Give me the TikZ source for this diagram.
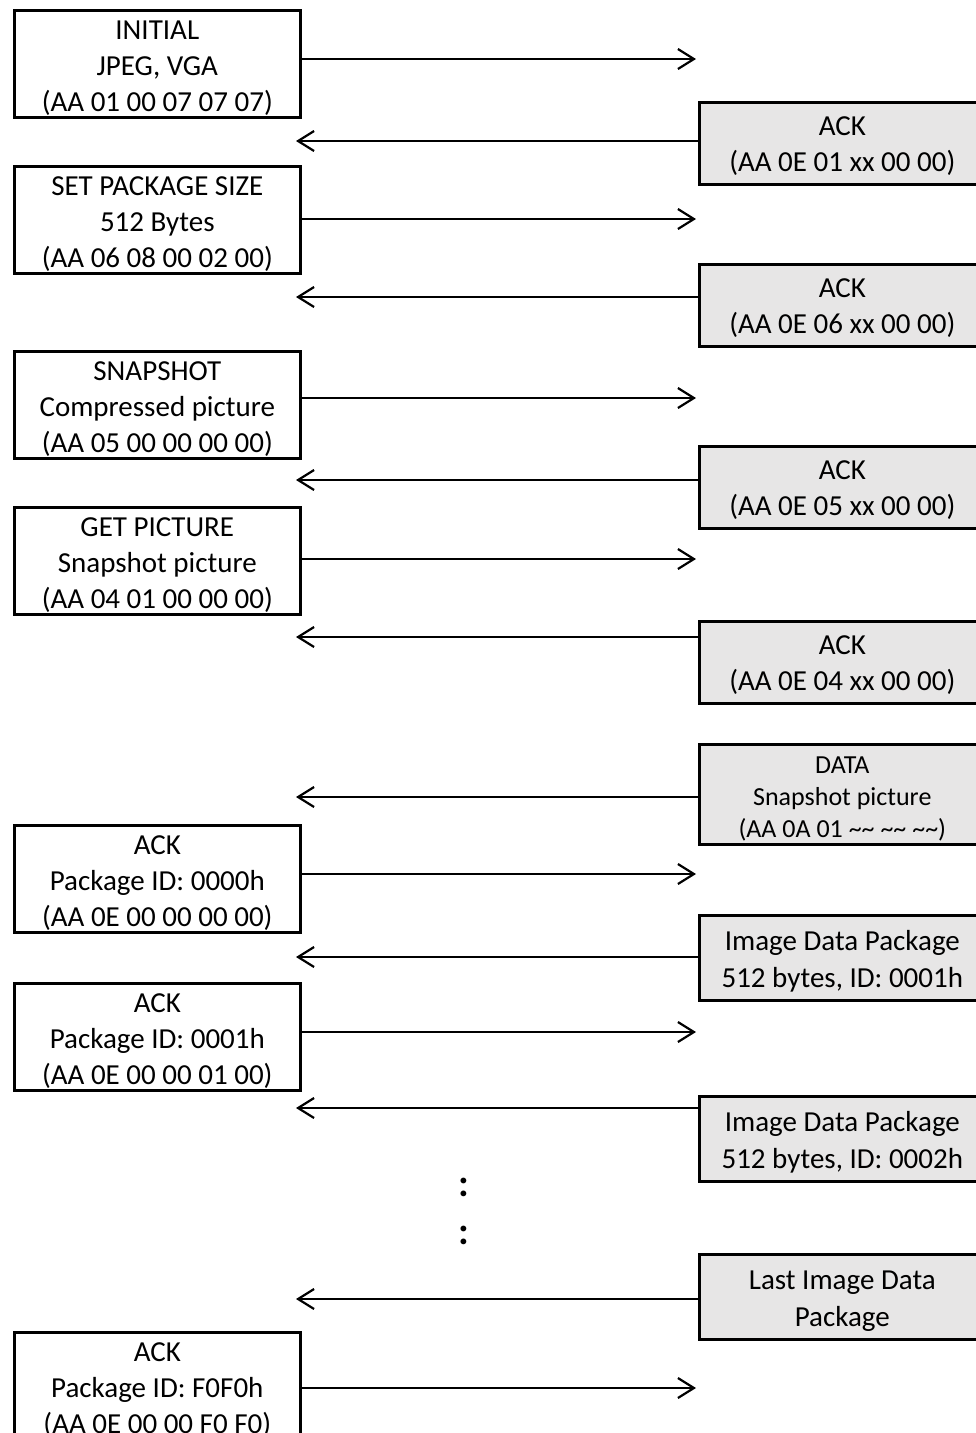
\documentclass[tikz,border=0pt]{standalone}
\usepackage{fontspec}
\setmainfont{Carlito}
\usetikzlibrary{arrows.meta}
\definecolor{boxgray}{RGB}{231,230,230}
% #1 width, #2 height, #3 first baseline offset, #4 baselineskip, #5 text
\newcommand\boxtext[5]{\vbox to #2{\hsize=#1\relax\parindent=0pt\centering\baselineskip=#4\relax\vskip\dimexpr#3-24pt\relax\leavevmode\rule{0pt}{24pt}#5\par\vss}}
\newcommand\ltext[1]{\boxtext{286pt}{107pt}{29.5pt}{36pt}{#1}}
\newcommand\atext[1]{\boxtext{286pt}{82pt}{33pt}{36pt}{#1}}
\newcommand\ptext[1]{\boxtext{286pt}{85pt}{35.5pt}{36.5pt}{#1}}
\newcommand\tl{\textasciitilde\textasciitilde}
\begin{document}
\begin{tikzpicture}[x=1pt,y=-1pt,
  font=\fontsize{29pt}{36pt}\selectfont,
  lbox/.style={draw, line width=2.6pt, fill=white, inner sep=0pt, anchor=north west},
  rbox/.style={lbox, fill=boxgray},
  arr/.style={line width=2.2pt, -{Straight Barb[length=16pt,width=20pt,line width=2.2pt]}},
  dots/.style={anchor=base, inner sep=0pt, font=\fontsize{39pt}{46pt}\selectfont\bfseries}]
\useasboundingbox (0,0) rectangle (976,1433);
\coordinate (tipR) at (696,0);
\coordinate (tipL) at (296,0);
% left boxes
\node[lbox] (b1) at (13,9) {\ltext{INITIAL\\JPEG, VGA\\(AA 01 00 07 07 07)}};
\node[lbox] (b2) at (13,165) {\ltext{SET PACKAGE SIZE\\512 Bytes\\(AA 06 08 00 02 00)}};
\node[lbox] (b3) at (13,350) {\ltext{SNAPSHOT\\Compressed picture\\(AA 05 00 00 00 00)}};
\node[lbox] (b4) at (13,506) {\ltext{GET PICTURE\\Snapshot picture\\(AA 04 01 00 00 00)}};
\node[lbox] (b5) at (13,824) {\ltext{ACK\\Package ID: 0000h\\(AA 0E 00 00 00 00)}};
\node[lbox] (b6) at (13,982) {\ltext{ACK\\Package ID: 0001h\\(AA 0E 00 00 01 00)}};
\node[lbox] (b7) at (13,1331) {\ltext{ACK\\Package ID: F0F0h\\(AA 0E 00 00 F0 F0)}};
% right boxes
\node[rbox] (r1) at (698,101) {\atext{ACK\\(AA 0E 01 xx 00 00)}};
\node[rbox] (r2) at (698,263) {\atext{ACK\\(AA 0E 06 xx 00 00)}};
\node[rbox] (r3) at (698,445) {\atext{ACK\\(AA 0E 05 xx 00 00)}};
\node[rbox] (r4) at (698,620) {\atext{ACK\\(AA 0E 04 xx 00 00)}};
\node[rbox] (r5) at (698,743) {\fontsize{26pt}{32pt}\selectfont\boxtext{286pt}{100pt}{29pt}{32pt}{DATA\\Snapshot picture\\(AA 0A 01 \tl{} \tl{} \tl)}};
\node[rbox] (r6) at (698,914) {\ptext{Image Data Package\\512 bytes, ID: 0001h}};
\node[rbox] (r7) at (698,1095) {\ptext{Image Data Package\\512 bytes, ID: 0002h}};
\node[rbox] (r8) at (698,1253) {\ptext{Last Image Data\\Package}};
% arrow levels
\coordinate (ya1) at (0,59);
\coordinate (ya2) at (0,219);
\coordinate (ya3) at (0,398);
\coordinate (ya4) at (0,559);
\coordinate (ya5) at (0,874);
\coordinate (ya6) at (0,1032);
\coordinate (ya7) at (0,1388);
\coordinate (yb1) at (0,141);
\coordinate (yb2) at (0,297);
\coordinate (yb3) at (0,480);
\coordinate (yb4) at (0,637);
\coordinate (yb5) at (0,797);
\coordinate (yb6) at (0,957);
\coordinate (yb7) at (0,1108);
\coordinate (yb8) at (0,1299);
% host -> camera
\foreach \i in {1,...,7} \draw[arr] (b\i.east |- ya\i) -- (tipR |- ya\i);
% camera -> host
\foreach \i in {1,...,8} \draw[arr] (r\i.west |- yb\i) -- (tipL |- yb\i);
% ellipsis
\node[dots] (dots1) at (464,1196) {:};
\node[dots] (dots2) at (464,1244) {:};
\end{tikzpicture}
\end{document}
